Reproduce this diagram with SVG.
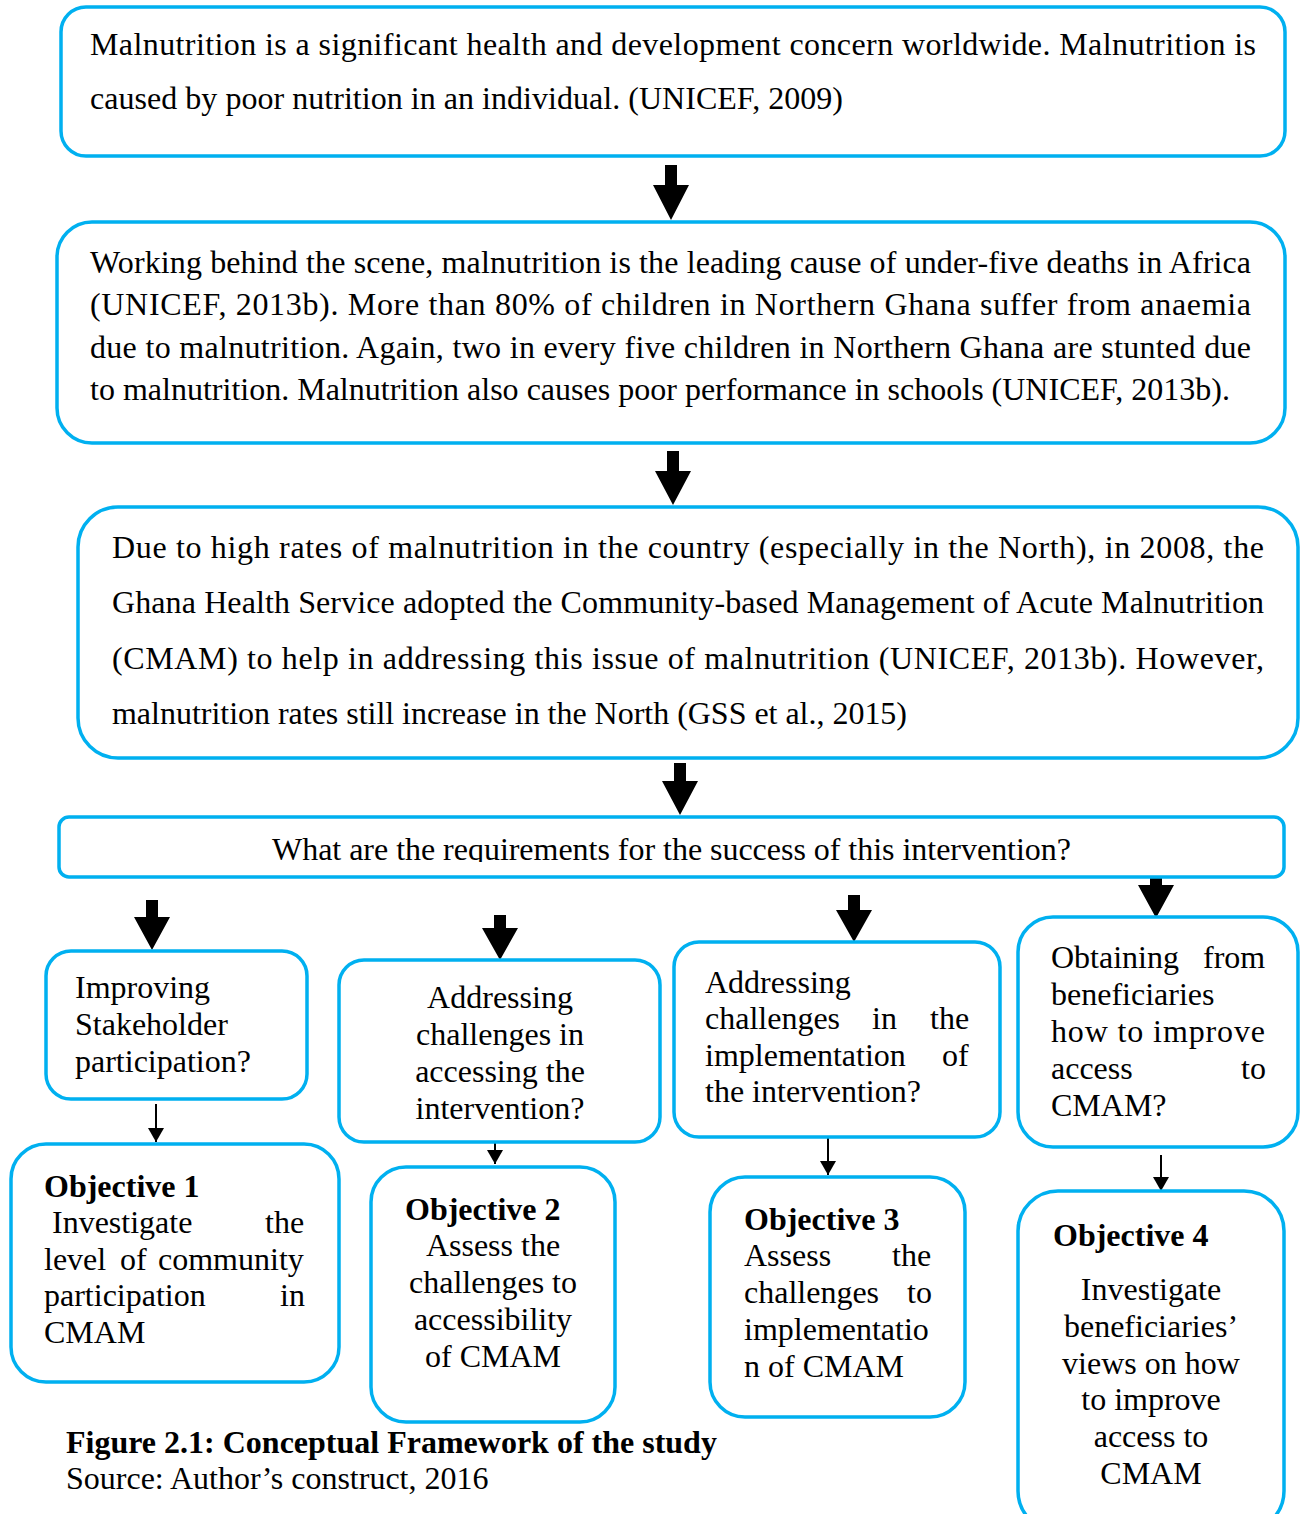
<svg xmlns="http://www.w3.org/2000/svg" width="1305" height="1514" viewBox="0 0 1305 1514">
<style>
.box{fill:#fff;stroke:#00B0F0;stroke-width:3.5}
text{font-family:"Liberation Serif","Times New Roman",serif;font-size:32px;fill:#000}
.b{font-weight:bold}
.c{text-anchor:middle}
.e{text-anchor:end}
.big{fill:#000}
.thin{stroke:#000;stroke-width:2;fill:none}
</style>
<defs>
<marker id="ah" markerUnits="userSpaceOnUse" markerWidth="16" markerHeight="14" viewBox="0 0 16 14" refX="8" refY="14" orient="0">
<path d="M0,0 L16,0 L8,14 Z" fill="#000"/>
</marker>
<clipPath id="clip4"><rect x="59" y="817" width="1225" height="45"/></clipPath>
</defs>
<rect width="1305" height="1514" fill="#fff"/>

<g id="connectors">
<path class="big" d="M665,165 H677 V185 H689 L671,220 L653,185 H665 Z"/>
<path class="big" d="M667,451 H679 V471 H691 L673,505 L655,471 H667 Z"/>
<path class="big" d="M674,763 H686 V781 H698 L680,815 L662,781 H674 Z"/>
<path class="big" d="M146,900 H158 V917 H170 L152,950 L134,917 H146 Z"/>
<path class="big" d="M494,915 H506 V928 H518 L500,960 L482,928 H494 Z"/>
<path class="big" d="M848,895 H860 V910 H872 L854,942 L836,910 H848 Z"/>
<path class="big" d="M1150,877 H1162 V885 H1174 L1156,918 L1138,885 H1150 Z"/>
<line class="thin" x1="156" y1="1104" x2="156" y2="1142" marker-end="url(#ah)"/>
<line class="thin" x1="495" y1="1143" x2="495" y2="1164" marker-end="url(#ah)"/>
<line class="thin" x1="828" y1="1137" x2="828" y2="1175" marker-end="url(#ah)"/>
<line class="thin" x1="1161" y1="1155" x2="1161" y2="1191" marker-end="url(#ah)"/>
</g>

<g id="n1">
<rect class="box" x="61" y="7" width="1224" height="149" rx="25"/>
<text x="90" y="55" textLength="1166" lengthAdjust="spacing">Malnutrition is a significant health and development concern worldwide.  Malnutrition is</text>
<text x="90" y="109" textLength="753" lengthAdjust="spacing">caused by poor nutrition in an individual. (UNICEF, 2009)</text>
</g>

<g id="n2">
<rect class="box" x="57" y="222" width="1228" height="221" rx="35"/>
<text x="90" y="273" textLength="1161" lengthAdjust="spacing">Working behind the scene, malnutrition is the leading cause of under-five deaths in Africa</text>
<text x="90" y="315" textLength="1161" lengthAdjust="spacing">(UNICEF, 2013b). More than 80% of children in Northern Ghana suffer from anaemia</text>
<text x="90" y="358" textLength="1161" lengthAdjust="spacing">due to malnutrition.  Again, two in every five children in Northern Ghana are stunted due</text>
<text x="90" y="400" textLength="1140" lengthAdjust="spacing">to malnutrition. Malnutrition also causes poor performance in schools (UNICEF, 2013b).</text>
</g>

<g id="n3">
<rect class="box" x="78" y="507" width="1220" height="251" rx="40"/>
<text x="112" y="558" textLength="1152" lengthAdjust="spacing">Due to high rates of malnutrition in the country (especially in the North), in 2008, the</text>
<text x="112" y="613" textLength="1152" lengthAdjust="spacing">Ghana Health Service adopted the Community-based Management of Acute Malnutrition</text>
<text x="112" y="669" textLength="1152" lengthAdjust="spacing">(CMAM) to help in addressing this issue of malnutrition (UNICEF, 2013b). However,</text>
<text x="112" y="724" textLength="795" lengthAdjust="spacing">malnutrition rates still increase in the North (GSS et al., 2015)</text>
</g>

<g id="n4">
<rect class="box" x="59" y="817" width="1225" height="60" rx="10"/>
<text x="272" y="860" textLength="799" lengthAdjust="spacing" clip-path="url(#clip4)">What are the requirements for the success of this intervention?</text>
</g>

<g id="q1">
<rect class="box" x="46" y="951" width="261" height="148" rx="25"/>
<text x="75" y="998">Improving</text>
<text x="75" y="1035">Stakeholder</text>
<text x="75" y="1072">participation?</text>
</g>

<g id="q2">
<rect class="box" x="339" y="960" width="321" height="182" rx="25"/>
<text class="c" x="500" y="1008">Addressing</text>
<text class="c" x="500" y="1045">challenges in</text>
<text class="c" x="500" y="1082">accessing the</text>
<text class="c" x="500" y="1119">intervention?</text>
</g>

<g id="q3">
<rect class="box" x="674" y="942" width="326" height="195" rx="25"/>
<text x="705" y="993">Addressing</text>
<text x="705" y="1029">challenges<tspan x="872">in</tspan><tspan x="930">the</tspan></text>
<text x="705" y="1066">implementation<tspan x="942">of</tspan></text>
<text x="705" y="1102">the intervention?</text>
</g>

<g id="q4">
<rect class="box" x="1018" y="917" width="280" height="230" rx="35"/>
<text x="1051" y="968">Obtaining<tspan x="1203">from</tspan></text>
<text x="1051" y="1005">beneficiaries</text>
<text x="1051" y="1042" textLength="214" lengthAdjust="spacing">how to improve</text>
<text x="1051" y="1079">access<tspan x="1241">to</tspan></text>
<text x="1051" y="1116">CMAM?</text>
</g>

<g id="o1">
<rect class="box" x="11" y="1144" width="328" height="238" rx="35"/>
<text class="b" x="44" y="1197">Objective 1</text>
<text x="52" y="1233">Investigate<tspan x="265">the</tspan></text>
<text x="44" y="1270">level<tspan x="120">of</tspan><tspan x="158">community</tspan></text>
<text x="44" y="1306">participation<tspan x="280">in</tspan></text>
<text x="44" y="1343">CMAM</text>
</g>

<g id="o2">
<rect class="box" x="371" y="1167" width="244" height="255" rx="35"/>
<text class="b" x="405" y="1220">Objective 2</text>
<text class="c" x="493" y="1256">Assess the</text>
<text class="c" x="493" y="1293">challenges to</text>
<text class="c" x="493" y="1330">accessibility</text>
<text class="c" x="493" y="1367">of CMAM</text>
</g>

<g id="o3">
<rect class="box" x="710" y="1177" width="255" height="240" rx="35"/>
<text class="b" x="744" y="1230">Objective 3</text>
<text x="744" y="1266">Assess<tspan x="892">the</tspan></text>
<text x="744" y="1303">challenges<tspan x="907">to</tspan></text>
<text x="744" y="1340">implementatio</text>
<text x="744" y="1377">n of CMAM</text>
</g>

<g id="o4">
<rect class="box" x="1018" y="1191" width="266" height="340" rx="40"/>
<text class="b" x="1053" y="1246">Objective 4</text>
<text class="c" x="1151" y="1300">Investigate</text>
<text class="c" x="1151" y="1337">beneficiaries’</text>
<text class="c" x="1151" y="1374">views on how</text>
<text class="c" x="1151" y="1410">to improve</text>
<text class="c" x="1151" y="1447">access to</text>
<text class="c" x="1151" y="1484">CMAM</text>
</g>

<g id="caption">
<text class="b" x="66" y="1453">Figure 2.1: Conceptual Framework of the study</text>
<text x="66" y="1489">Source: Author’s construct, 2016</text>
</g>
</svg>
